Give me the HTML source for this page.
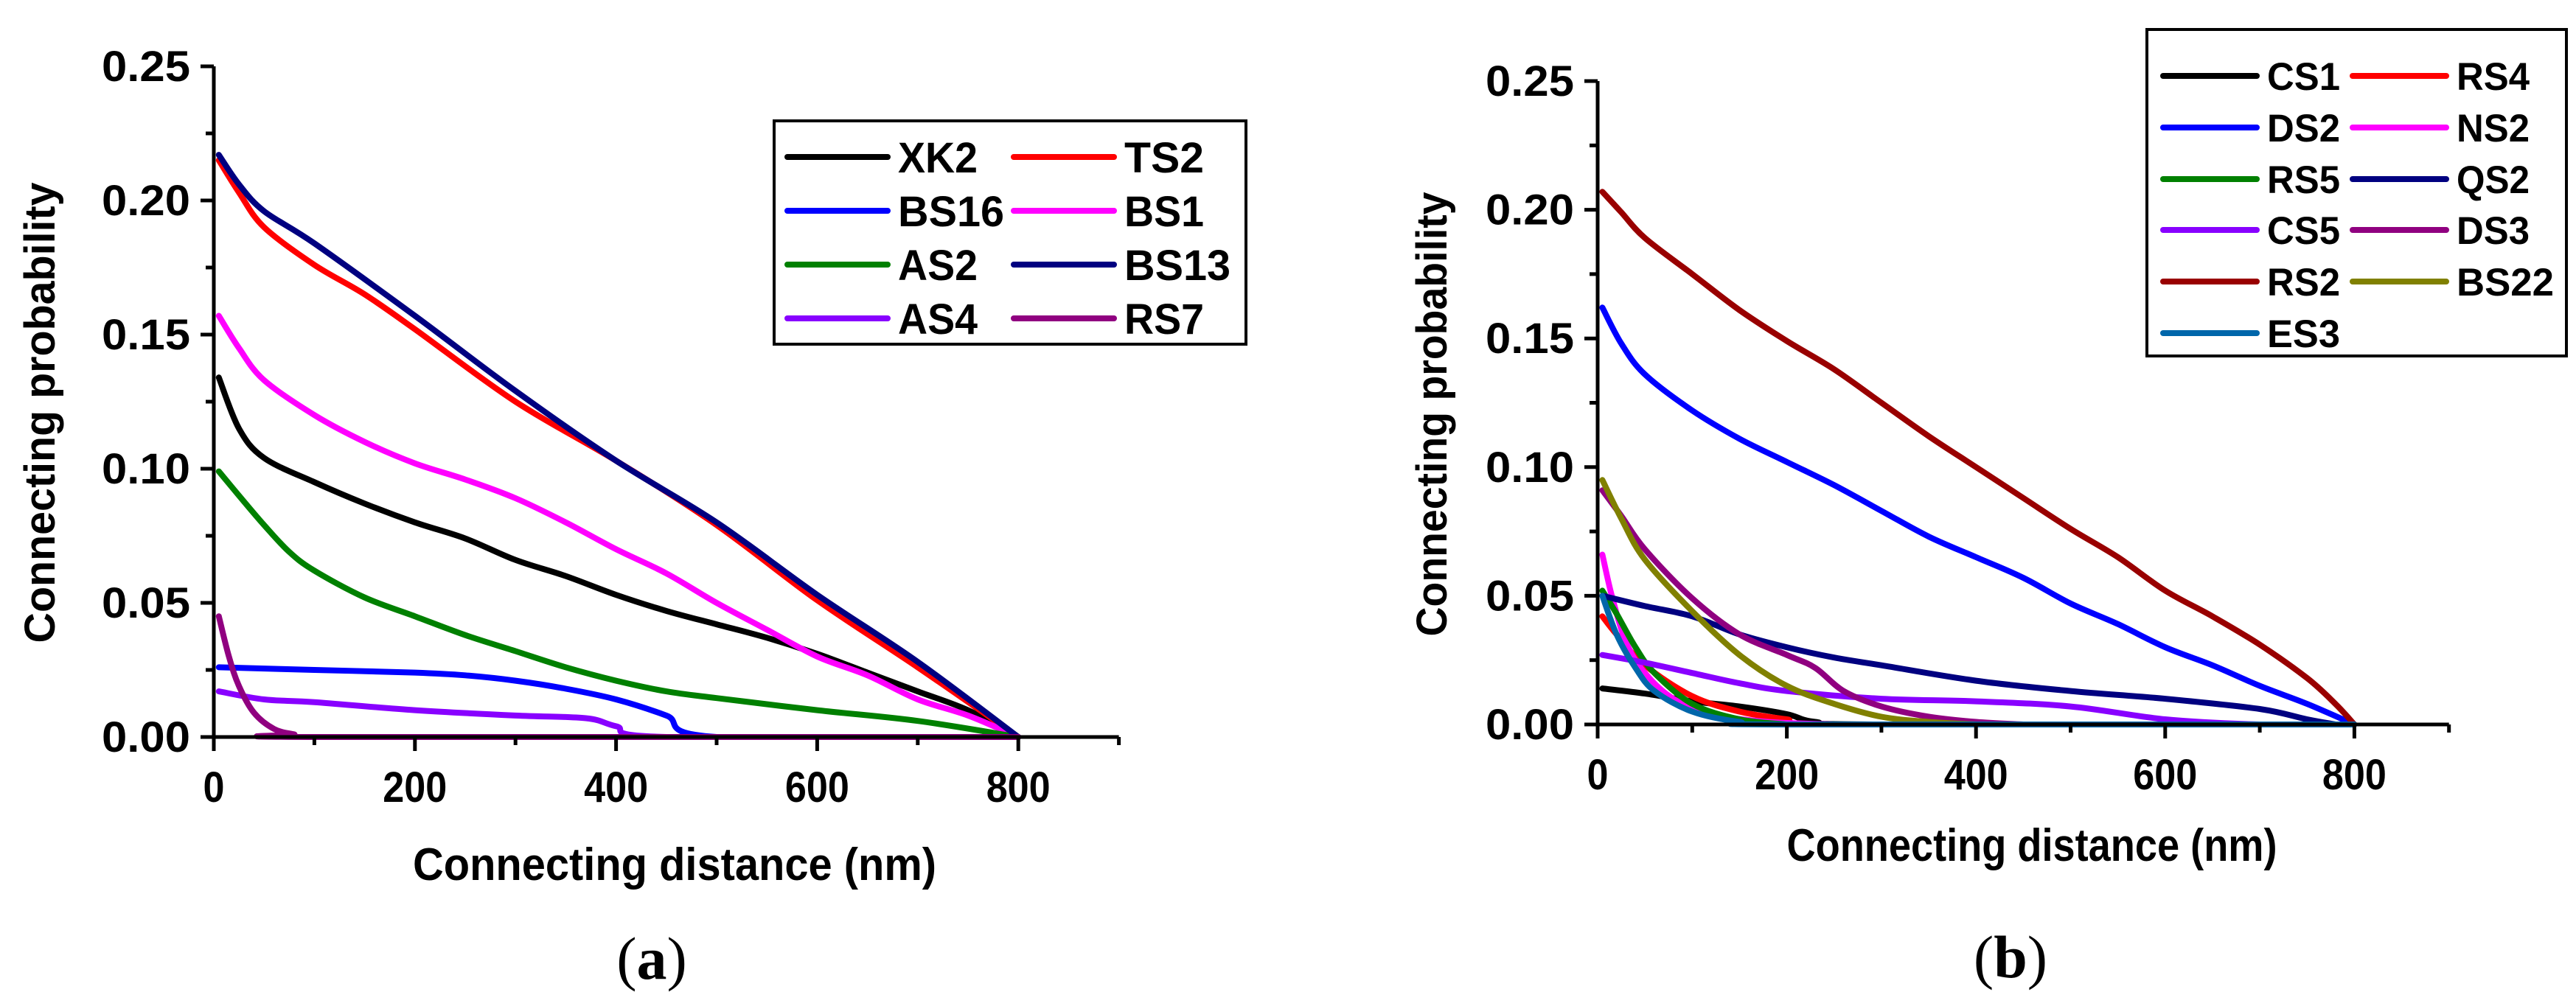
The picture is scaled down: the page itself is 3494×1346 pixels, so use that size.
<!DOCTYPE html>
<html><head><meta charset="utf-8"><style>
html,body{margin:0;padding:0;background:#fff;}
svg{display:block;font-family:"Liberation Sans",Arial,sans-serif;font-weight:bold;}
</style></head><body>
<svg id="fig" width="3494" height="1346" viewBox="0 0 3494 1346" xmlns="http://www.w3.org/2000/svg">
<rect width="3494" height="1346" fill="#fff"/>
</svg>
<script>
// ---- Data: chart (a) ----
const aNames=["XK2","TS2","BS16","BS1","AS2","BS13","AS4","RS7"];
const aColors=["#000000","#ff0000","#0000ff","#ff00ff","#008000","#000080","#8800ff","#900080"];
const aXK2=[[5,0.134],[25,0.115],[50,0.104],[100,0.095],[150,0.087],[200,0.080],[250,0.074],[300,0.066],[350,0.060],[400,0.053],[450,0.047],[500,0.042],[550,0.037],[600,0.031],[650,0.024],[700,0.017],[750,0.010],[800,0]];
const aTS2=[[5,0.215],[25,0.203],[50,0.190],[100,0.176],[150,0.165],[200,0.152],[300,0.125],[400,0.103],[500,0.079],[600,0.051],[700,0.026],[800,0]];
const aBS16=[[5,0.026],[100,0.025],[200,0.024],[250,0.023],[300,0.021],[350,0.018],[400,0.014],[450,0.008],[500,0],[800,0]];
const aBS1=[[5,0.157],[25,0.145],[50,0.133],[100,0.120],[150,0.110],[200,0.102],[250,0.096],[300,0.089],[350,0.080],[400,0.070],[450,0.061],[500,0.050],[550,0.040],[600,0.030],[650,0.023],[700,0.014],[750,0.008],[800,0]];
const aAS2=[[5,0.099],[25,0.090],[50,0.079],[75,0.069],[100,0.062],[150,0.052],[200,0.045],[250,0.038],[300,0.032],[350,0.026],[400,0.021],[450,0.017],[500,0.0145],[600,0.010],[700,0.006],[800,0]];
const aBS13=[[5,0.217],[25,0.206],[50,0.196],[100,0.184],[200,0.157],[300,0.129],[400,0.103],[500,0.080],[600,0.053],[700,0.028],[800,0]];
const aAS4=[[5,0.017],[50,0.014],[100,0.013],[200,0.010],[300,0.008],[370,0.007],[400,0.004],[450,0],[800,0]];
const aRS7=[[5,0.045],[15,0.030],[25,0.019],[40,0.009],[60,0.003],[80,0.001],[100,0],[800,0]];
const aSeries=[aXK2,aTS2,aBS16,aBS1,aAS2,aBS13,aAS4,aRS7];
// ---- Data: chart (b) ----
const bNames=["CS1","RS4","DS2","NS2","RS5","QS2","CS5","DS3","RS2","BS22","ES3"];
const bColors=["#000000","#ff0000","#0000ff","#ff00ff","#008000","#000080","#8800ff","#900080","#990000","#808000","#0066aa"];
const bCS1=[[5,0.014],[50,0.012],[100,0.009],[150,0.007],[200,0.004],[230,0.001],[300,0],[800,0]];
const bRS4=[[5,0.042],[20,0.035],[50,0.023],[100,0.011],[150,0.005],[200,0.002],[250,0],[800,0]];
const bDS2=[[5,0.162],[25,0.148],[50,0.136],[100,0.122],[150,0.111],[200,0.102],[250,0.093],[300,0.083],[350,0.073],[400,0.065],[450,0.057],[500,0.047],[550,0.039],[600,0.030],[650,0.023],[700,0.015],[750,0.008],[800,0]];
const bNS2=[[5,0.066],[15,0.050],[30,0.032],[50,0.020],[80,0.010],[120,0.004],[180,0.001],[250,0]];
const bRS5=[[5,0.052],[20,0.043],[40,0.030],[60,0.020],[100,0.008],[150,0.002],[200,0]];
const bQS2=[[5,0.050],[50,0.046],[100,0.042],[150,0.035],[200,0.030],[250,0.026],[300,0.023],[400,0.017],[500,0.013],[600,0.010],[700,0.006],[750,0.002],[780,0]];
const bCS5=[[5,0.027],[50,0.024],[100,0.020],[150,0.016],[200,0.013],[300,0.010],[400,0.009],[500,0.007],[600,0.002],[700,0],[800,0]];
const bDS3=[[5,0.091],[25,0.081],[50,0.068],[100,0.049],[150,0.035],[200,0.027],[230,0.022],[260,0.013],[300,0.007],[350,0.003],[400,0.001],[450,0]];
const bRS2=[[5,0.207],[25,0.199],[50,0.189],[100,0.175],[150,0.161],[200,0.149],[250,0.138],[300,0.125],[350,0.112],[400,0.100],[450,0.088],[500,0.076],[550,0.065],[600,0.052],[650,0.042],[700,0.031],[750,0.018],[780,0.008],[800,0]];
const bBS22=[[5,0.095],[25,0.080],[50,0.064],[100,0.044],[150,0.027],[200,0.015],[250,0.008],[300,0.003],[350,0.001],[400,0]];
const bES3=[[5,0.050],[20,0.035],[40,0.022],[60,0.013],[100,0.005],[150,0.001],[200,0],[800,0]];
const bSeries=[bCS1,bRS4,bDS2,bNS2,bRS5,bQS2,bCS5,bDS3,bRS2,bBS22,bES3];
const xTickLabels=["0","200","400","600","800"];
const yTickLabels=["0.00","0.05","0.10","0.15","0.20","0.25"];

const NS="http://www.w3.org/2000/svg";
const svg=document.getElementById('fig');
function mk(tag,attrs,parent,text){const e=document.createElementNS(NS,tag);for(const k in attrs)e.setAttribute(k,attrs[k]);if(text!==undefined)e.textContent=text;(parent||svg).appendChild(e);return e;}
function smooth(pts,ymax){
  let d='M'+pts[0][0].toFixed(1)+' '+pts[0][1].toFixed(1);
  for(let i=0;i<pts.length-1;i++){
    const p0=pts[Math.max(0,i-1)],p1=pts[i],p2=pts[i+1],p3=pts[Math.min(pts.length-1,i+2)];
    const c1x=p1[0]+(p2[0]-p0[0])/6,c1y=Math.min(ymax,p1[1]+(p2[1]-p0[1])/6);
    const c2x=p2[0]-(p3[0]-p1[0])/6,c2y=Math.min(ymax,p2[1]-(p3[1]-p1[1])/6);
    d+=` C${c1x.toFixed(1)} ${c1y.toFixed(1)} ${c2x.toFixed(1)} ${c2y.toFixed(1)} ${p2[0].toFixed(1)} ${p2[1].toFixed(1)}`;
  }
  return d;
}

function chart(cfg){
  const g=mk('g',{});
  
  
  const sx=v=>cfg.x0+(v/100)*cfg.px100;
  const sy=v=>cfg.y0-(v/0.025)*cfg.py025;
  cfg.series.forEach((s,i)=>{
    const pts=s.map(d=>[sx(d[0]),sy(d[1])]);
    const p=mk('path',{d:smooth(pts,cfg.y0),fill:'none',stroke:cfg.colors[i],'stroke-width':8,'stroke-linejoin':'round','stroke-linecap':'round'},g);
    
    
  });
  const ax=mk('path',{d:`M${cfg.x0} ${sy(0.25)} V${cfg.y0} H${sx(900)}`,fill:'none',stroke:'#000','stroke-width':5},g);
  
  
  for(let i=0;i<=10;i++){const v=i*0.025;const L=i%2==0?18:11;mk('line',{x1:cfg.x0-L,x2:cfg.x0,y1:sy(v),y2:sy(v),stroke:'#000','stroke-width':5},g);}
  for(let i=0;i<=9;i++){const L=i%2==0?19:11;mk('line',{x1:sx(i*100),x2:sx(i*100),y1:cfg.y0,y2:cfg.y0+L,stroke:'#000','stroke-width':5},g);}
  yTickLabels.forEach((t,i)=>{const e=mk('text',{x:cfg.x0-32,y:sy(i*0.05)+20,'text-anchor':'end','font-size':58,textLength:t.length*30,lengthAdjust:'spacingAndGlyphs'},g,t);
    });
  xTickLabels.forEach((t,i)=>{const e=mk('text',{x:sx(i*200),y:cfg.y0+88,'text-anchor':'middle','font-size':58,textLength:t.length*29,lengthAdjust:'spacingAndGlyphs'},g,t);
    });
  const xt=mk('text',{x:cfg.xtx,y:cfg.xty,'text-anchor':'middle','font-size':62,textLength:cfg.xtw,lengthAdjust:'spacingAndGlyphs'},g,'Connecting distance (nm)');
  
  const yt=mk('text',{x:0,y:0,'text-anchor':'middle','font-size':58,textLength:cfg.ytw,lengthAdjust:'spacingAndGlyphs',transform:`translate(${cfg.ytx},${cfg.yty}) rotate(-90)`},g,'Connecting probability');
  
  const lg=mk('g',{},g);
  
  const L=cfg.leg;
  mk('rect',{x:L.x,y:L.y,width:L.w,height:L.h,fill:'#fff',stroke:'#000','stroke-width':4},lg);
  cfg.names.forEach((n,i)=>{
    const col=i%2,row=Math.floor(i/2);
    const lx=L.lx[col],ly=L.ry[row];
    const en=mk('g',{},lg);
    
    
    mk('line',{x1:lx,x2:lx+L.lw,y1:ly,y2:ly,stroke:cfg.colors[i],'stroke-width':8,'stroke-linecap':'round'},en);
    mk('text',{x:lx+L.lw+14,y:ly+L.fs*0.36,'font-size':L.fs,textLength:n.length*L.cw,lengthAdjust:'spacingAndGlyphs'},en,n);
  });
  const cap=mk('text',{x:cfg.capx,y:cfg.capy,'text-anchor':'middle','font-size':82,'font-weight':'normal','font-family':'"Liberation Serif",serif'},g);
  
  mk('tspan',{},cap,'(');mk('tspan',{'font-weight':'bold'},cap,cfg.cap);mk('tspan',{},cap,')');
}

chart({id:'chart-a',series:aSeries,names:aNames,colors:aColors,x0:290,y0:1000,px100:136.4,py025:91,
  xtx:915,xty:1194,xtw:710,ytx:74,yty:560,ytw:625,capx:884,capy:1328,cap:'a',
  leg:{x:1050,y:164,w:640,h:303,lx:[1068,1375],ry:[213,286,359,432],lw:136,fs:58,cw:36}});
chart({id:'chart-b',series:bSeries,names:bNames,colors:bColors,x0:2167,y0:983,px100:128.3,py025:87.3,
  xtx:2756,xty:1168,xtw:665,ytx:1962,yty:562,ytw:603,capx:2727,capy:1326,cap:'b',
  leg:{x:2912,y:40,w:569,h:443,lx:[2934,3191],ry:[103,173,243,312,382,452],lw:127,fs:53,cw:33}});
</script>
</body></html>
